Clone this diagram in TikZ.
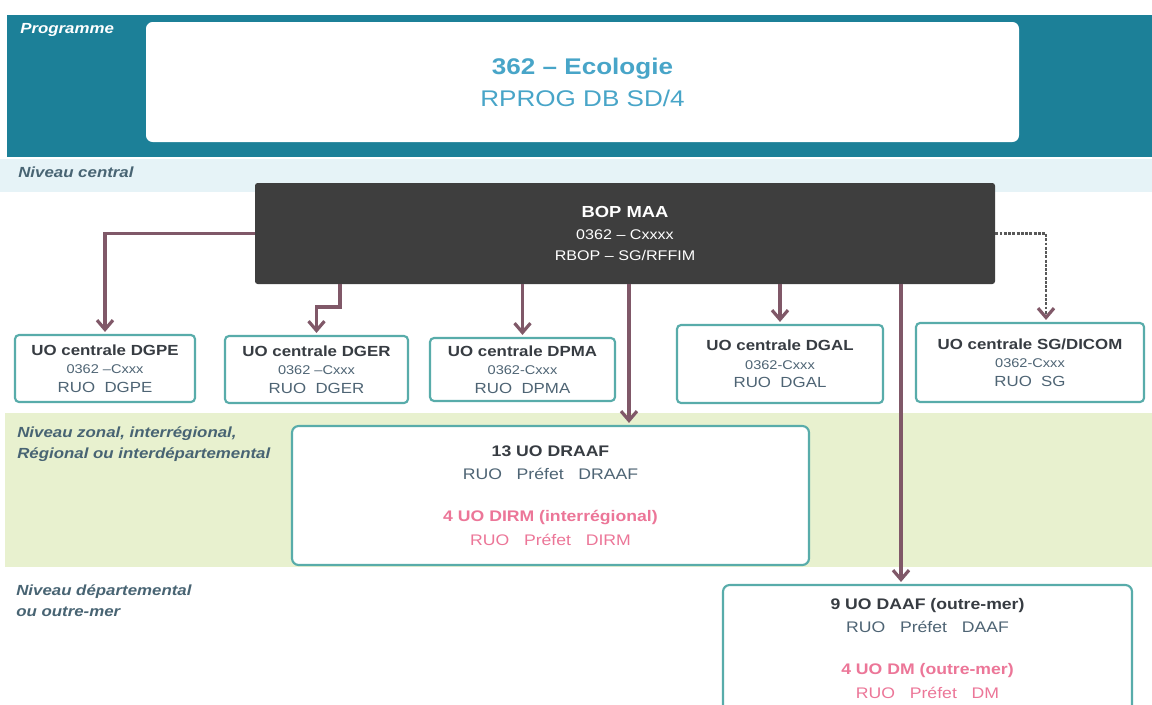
\documentclass[tikz,border=0pt]{standalone}
\usepackage{fontspec}
\setmainfont{Liberation Sans}[FakeStretch=1.15]
\usetikzlibrary{arrows.meta}

\definecolor{progteal}{RGB}{28,128,152}
\definecolor{progtext}{RGB}{72,165,200}
\definecolor{boxteal}{RGB}{88,172,170}
\definecolor{bopgray}{RGB}{62,62,62}
\definecolor{linkc}{RGB}{128,88,104}
\definecolor{pinkc}{RGB}{236,118,152}
\definecolor{levelc}{RGB}{72,100,115}
\definecolor{headc}{RGB}{55,60,66}
\definecolor{subc}{RGB}{78,100,116}
\definecolor{zonegreen}{RGB}{232,241,207}
\definecolor{zoneblue}{RGB}{230,243,247}

\newcommand{\uohead}[1]{{\fontsize{11}{14}\selectfont\bfseries\color{headc}#1}}
\newcommand{\uoruo}[1]{{\fontsize{11}{14}\selectfont#1}}

\begin{document}
\begin{tikzpicture}[x=0.75pt,y=-0.75pt,
  progbox/.style={fill=white, rounded corners=5pt, align=center, inner sep=0pt,
    text=progtext, font=\fontsize{17}{24}\selectfont},
  bopbox/.style={fill=bopgray, rounded corners=2pt, align=center, inner sep=0pt,
    text=white, font=\fontsize{10.5}{16}\selectfont},
  uobox/.style={draw=boxteal, line width=1.6pt, fill=white, rounded corners=3pt,
    align=center, inner sep=0pt, text=subc, font=\fontsize{9.5}{14}\selectfont},
  bigbox/.style={draw=boxteal, line width=1.6pt, fill=white, rounded corners=5pt,
    align=center, inner sep=0pt, text=subc, font=\fontsize{11.5}{17.5}\selectfont},
  level/.style={anchor=north west, align=left, inner sep=0pt, text=levelc,
    font=\fontsize{11}{15.75}\selectfont\bfseries\itshape},
  link/.style={draw=linkc, line width=2.8pt, shorten >=1.5pt,
    -{Straight Barb[length=7pt,width=12pt,line width=2.4pt]}},
  linkdot/.style={draw=black!65, line width=2.2pt, densely dotted, shorten >=1.5pt,
    -{Straight Barb[length=7pt,width=12pt,line width=2.4pt,color=linkc]}}]

\clip (0,0) rectangle (1152,704);
\fill[white] (0,0) rectangle (1152,704);

% bands
\fill[progteal] (7,15) rectangle (1152,157);
\fill[zoneblue] (0,159) rectangle (1152,192);
\fill[zonegreen] (5,413) rectangle (1152,567);

\node[level, text=white] (lprog) at (20,23) {Programme};
\node[level] (lcentral) at (18,167) {Niveau central};
\node[level] (lzonal) at (17,426) {Niveau zonal, interrégional,\\Régional ou interdépartemental};
\node[level] (ldep) at (16,584) {Niveau départemental\\ou outre-mer};

\node[progbox, minimum width=654.75pt, minimum height=90pt] (prog) at (582.5,82)
  {{\bfseries 362 – Ecologie}\\RPROG DB SD/4};

\node[bopbox, minimum width=555pt, minimum height=75.75pt] (bop) at (625,233.5)
  {{\fontsize{12}{16}\selectfont\bfseries BOP MAA}\\0362 – Cxxxx\\RBOP – SG/RFFIM};

\node[uobox, minimum width=135pt, minimum height=50.25pt] (dgpe) at (105,368.5)
  {\uohead{UO centrale DGPE}\\0362 –Cxxx\\\uoruo{RUO \ DGPE}};
\node[uobox, minimum width=137.25pt, minimum height=50.25pt] (dger) at (316.5,369.5)
  {\uohead{UO centrale DGER}\\0362 –Cxxx\\\uoruo{RUO \ DGER}};
\node[uobox, minimum width=138.75pt, minimum height=47.25pt] (dpma) at (522.5,369.5)
  {\uohead{UO centrale DPMA}\\0362-Cxxx\\\uoruo{RUO \ DPMA}};
\node[uobox, minimum width=154.5pt, minimum height=58.5pt] (dgal) at (780,364)
  {\uohead{UO centrale DGAL}\\0362-Cxxx\\\uoruo{RUO \ DGAL}};
\node[uobox, minimum width=171pt, minimum height=59.25pt] (dicom) at (1030,362.5)
  {\uohead{UO centrale SG/DICOM}\\0362-Cxxx\\\uoruo{RUO \ SG}};

\node[bigbox, minimum width=387.75pt, minimum height=104.25pt] (draaf) at (550.5,495.5)
  {{\bfseries\color{headc}13 UO DRAAF}\\RUO \ \ Préfet \ \ DRAAF\\[14pt]
   {\color{pinkc}\bfseries 4 UO DIRM (interrégional)}\\{\color{pinkc}RUO \ \ Préfet \ \ DIRM}};
\node[bigbox, minimum width=306.75pt, minimum height=95.25pt] (daaf) at (927.5,648.5)
  {{\bfseries\color{headc}9 UO DAAF (outre-mer)}\\RUO \ \ Préfet \ \ DAAF\\[14pt]
   {\color{pinkc}\bfseries 4 UO DM (outre-mer)}\\{\color{pinkc}RUO \ \ Préfet \ \ DM}};

% arrows from the BOP
\draw[link] (bop.west) -| (dgpe.north);
\draw[link] ([xshift=-213.75pt]bop.south) -- ++(0,-17pt) -| (dger.north);
\draw[link] (bop.south -| dpma.north) -- (dpma.north);
\draw[link] ([xshift=3pt]bop.south) coordinate (a4) -- (a4 |- draaf.north);
\draw[link] (bop.south -| dgal.north) -- (dgal.north);
\draw[link] ([xshift=207pt]bop.south) coordinate (a6) -- (a6 |- daaf.north);
\draw[linkdot] (bop.east) -| ([xshift=12pt]dicom.north);

\end{tikzpicture}
\end{document}
